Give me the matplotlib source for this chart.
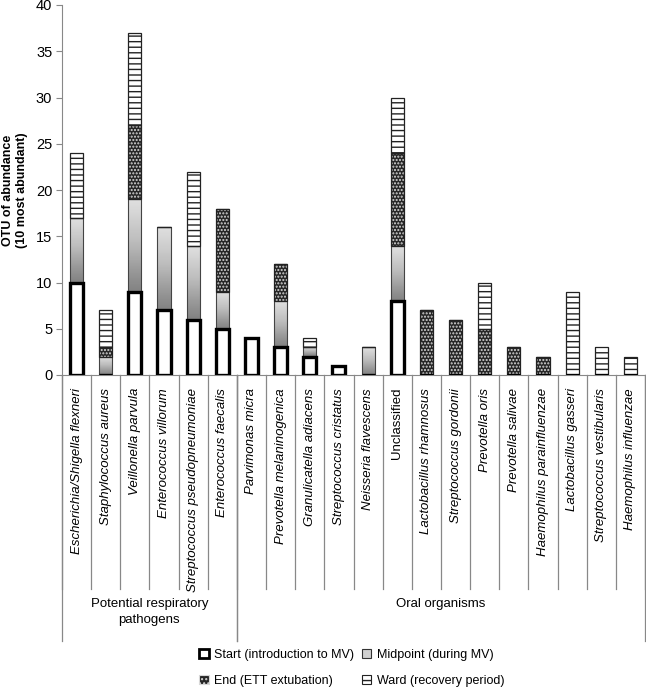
import matplotlib
matplotlib.use("Agg")
import matplotlib.pyplot as plt
import numpy as np
from matplotlib.patches import Patch
from matplotlib.transforms import blended_transform_factory

plt.rcParams['font.family'] = ['Liberation Sans', 'DejaVu Sans']

categories = ["Escherichia/Shigella flexneri", "Staphylococcus aureus", "Veillonella parvula",
              "Enterococcus villorum", "Streptococcus pseudopneumoniae", "Enterococcus faecalis",
              "Parvimonas micra", "Prevotella melaninogenica", "Granulicatella adiacens",
              "Streptococcus cristatus", "Neisseria flavescens", "Unclassified",
              "Lactobacillus rhamnosus", "Streptococcus gordonii", "Prevotella oris",
              "Prevotella salivae", "Haemophilus parainfluenzae", "Lactobacillus gasseri",
              "Streptococcus vestibularis", "Haemophilus influenzae"]
start    = [10, 0, 9, 7, 6, 5, 4, 3, 2, 1, 0, 8, 0, 0, 0, 0, 0, 0, 0, 0]
midpoint = [7, 2, 10, 9, 8, 4, 0, 5, 1, 0, 3, 6, 0, 0, 0, 0, 0, 0, 0, 0]
end      = [0, 1, 8, 0, 0, 9, 0, 4, 0, 0, 0, 10, 7, 6, 5, 3, 2, 0, 0, 0]
ward     = [7, 4, 10, 0, 8, 0, 0, 0, 1, 0, 0, 6, 0, 0, 5, 0, 0, 9, 3, 2]
groups = [("Potential respiratory\npathogens", 0, 6), ("Oral organisms", 6, 20)]
legend_labels = ["Start (introduction to MV)", "Midpoint (during MV)",
                 "End (ETT extubation)", "Ward (recovery period)"]
yticks = [0, 5, 10, 15, 20, 25, 30, 35, 40]

fig = plt.figure(figsize=(6.46, 6.90), dpi=100)
ax = fig.add_axes([62/646, 1-375/690, 583/646, 370/690])

x = np.arange(len(categories))
w = 0.45
s = np.array(start, float); m = np.array(midpoint, float)
e = np.array(end, float); wd = np.array(ward, float)

# Midpoint: gradient (light top, darker bottom)
mid_bars = ax.bar(x, m, w, bottom=s, facecolor='none', edgecolor='#444444', lw=0.8, zorder=3)
grad = np.linspace(1, 0, 100).reshape(-1, 1)
for b, h in zip(mid_bars, m):
    if h <= 0:
        continue
    x0, y0 = b.get_x(), b.get_y()
    im = ax.imshow(grad, extent=(x0, x0 + b.get_width(), y0, y0 + b.get_height()),
                   origin='lower', cmap='Greys', vmin=-0.6, vmax=2.2, aspect='auto', zorder=2,
                   interpolation='bilinear')
    im.set_clip_path(b)

# End: dark with white dots
ax.bar(x, e, w, bottom=s + m, facecolor='#262626', edgecolor='#d8d8d8', hatch='.....', lw=0, zorder=2)
ax.bar(x, e, w, bottom=s + m, fill=False, edgecolor='#222222', lw=0.9, zorder=3)

# Ward: horizontal stripes
ax.bar(x, wd, w, bottom=s + m + e, facecolor='white', edgecolor='#222222', hatch='---', lw=0, zorder=2)
ax.bar(x, wd, w, bottom=s + m + e, fill=False, edgecolor='#222222', lw=0.9, zorder=3)

# Start: white with thick black edge
ax.bar(x, s, w, facecolor='white', edgecolor='black', lw=2.4, zorder=4)

ax.set_xlim(-0.5, len(categories) - 0.5)
ax.set_ylim(0, 40)
ax.set_yticks(yticks)
ax.tick_params(axis='y', direction='out', length=4, color='#888888', labelsize=10.5, pad=3)
ax.set_xticks([])
for sp in ['top', 'right']:
    ax.spines[sp].set_visible(False)
ax.spines['left'].set_color('#888888')
ax.spines['bottom'].set_color('#888888')
ax.set_ylabel("OTU of abundance\n(10 most abundant)", fontsize=9, fontweight='bold', labelpad=6)

tr = blended_transform_factory(ax.transData, ax.transAxes)
for k in range(len(categories) + 1):
    ax.plot([k - 0.5, k - 0.5], [0, -0.578], color='#888888', lw=0.9, transform=tr, clip_on=False)
for name, a, bnd in groups:
    ax.plot([a - 0.5, a - 0.5], [0, -0.72], color='#888888', lw=0.9, transform=tr, clip_on=False)
    ax.plot([bnd - 0.5, bnd - 0.5], [0, -0.72], color='#888888', lw=0.9, transform=tr, clip_on=False)
    ax.text((a + bnd - 1) / 2, -0.603, name, transform=tr, ha='center', va='top',
            fontsize=9.5, linespacing=1.45)

for i, c in enumerate(categories):
    ax.text(i, -0.035, c, transform=tr, rotation=90, ha='center', va='top', fontsize=9.5,
            style='normal' if c == 'Unclassified' else 'italic')

h_start = Patch(facecolor='white', edgecolor='black', lw=2.0)
h_mid = Patch(facecolor='#d0d0d0', edgecolor='#333333', lw=0.8)
h_end = Patch(facecolor='#262626', edgecolor='#d8d8d8', hatch='....', lw=0.8)
h_ward = Patch(facecolor='white', edgecolor='#222222', hatch='---', lw=0.8)
# ncol=2 fills column-wise; order so rows read Start|Midpoint, End|Ward
order = [0, 2, 1, 3]
hs = [h_start, h_mid, h_end, h_ward]
fig.legend([hs[i] for i in order], [legend_labels[i] for i in order], ncol=2, loc='center left',
           bbox_to_anchor=(188/646, 1 - 668/690),
           frameon=False, fontsize=9, handlelength=0.75, handleheight=0.75, handletextpad=0.45,
           columnspacing=0.6, labelspacing=1.15)

fig.savefig("out.png", dpi=100)
